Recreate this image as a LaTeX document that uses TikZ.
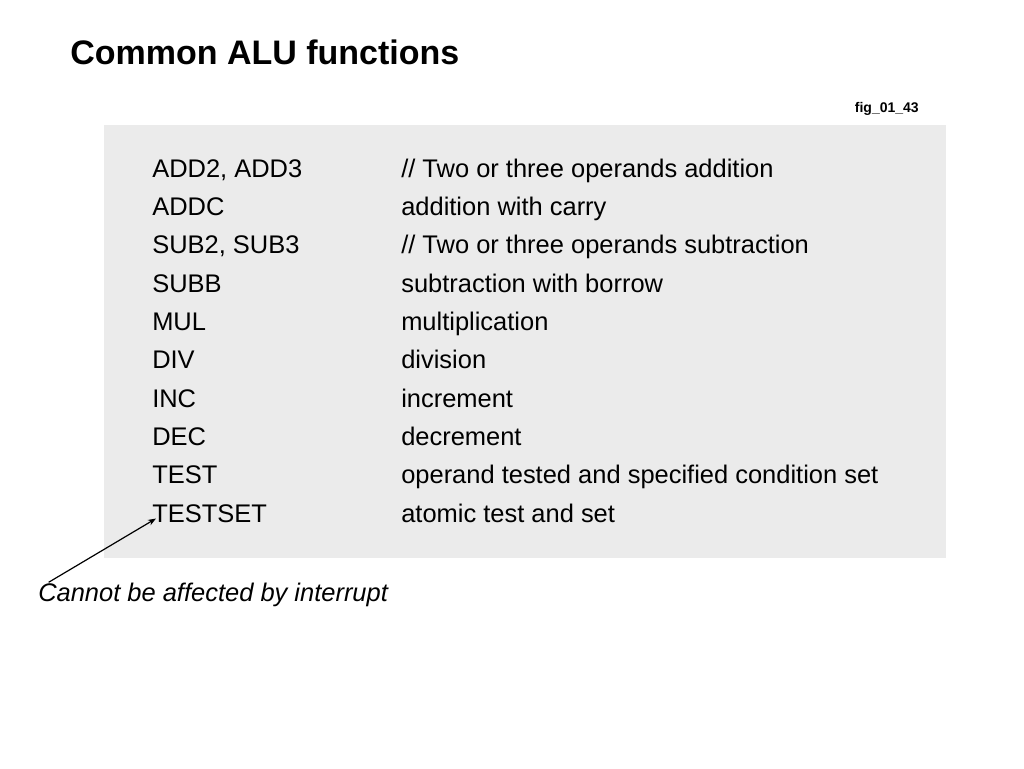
\documentclass[tikz,border=0pt]{standalone}
\usepackage{fontspec}
\setmainfont{Liberation Sans}
\usetikzlibrary{arrows.meta}
\definecolor{boxgrey}{HTML}{EBEBEB}
\tikzset{
  rowtext/.style={anchor=base west,inner sep=0pt,font=\fontsize{19.1}{21}\selectfont},
}
\begin{document}
\begin{tikzpicture}[x=0.75pt,y=-0.75pt]
\useasboundingbox (0,0) rectangle (1024,768);

\node [anchor=base west,inner sep=0pt,font=\fontsize{25.5}{28}\selectfont\bfseries] (alu-title) at (70,64){Common ALU functions};
\node [anchor=base east,inner sep=0pt,font=\fontsize{10.5}{12}\selectfont\bfseries] (alu-fig) at (919,112){fig\_01\_43};

\fill [boxgrey] (104,125) rectangle (946,558);

%%%%%%%%%%%%%%%%%%%%%%%%%%%%%%%%%%%%%%%%%%%%%%%%%%%%%%%%%%%%%%%%%

\node [rowtext] (alu-add) at (152,177){ADD2, ADD3};
\node [rowtext] (alu-add-d) at (401,177){// Two or three operands addition};

\node [rowtext] (alu-addc) at (152,215.3){ADDC};
\node [rowtext] (alu-addc-d) at (401,215.3){addition with carry};

\node [rowtext] (alu-sub) at (152,253.7){SUB2, SUB3};
\node [rowtext] (alu-sub-d) at (401,253.7){// Two or three operands subtraction};

\node [rowtext] (alu-subb) at (152,292){SUBB};
\node [rowtext] (alu-subb-d) at (401,292){subtraction with borrow};

\node [rowtext] (alu-mul) at (152,330.3){MUL};
\node [rowtext] (alu-mul-d) at (401,330.3){multiplication};

\node [rowtext] (alu-div) at (152,368.7){DIV};
\node [rowtext] (alu-div-d) at (401,368.7){division};

\node [rowtext] (alu-inc) at (152,407){INC};
\node [rowtext] (alu-inc-d) at (401,407){increment};

\node [rowtext] (alu-dec) at (152,445.3){DEC};
\node [rowtext] (alu-dec-d) at (401,445.3){decrement};

\node [rowtext] (alu-test) at (152,483.7){TEST};
\node [rowtext] (alu-test-d) at (401,483.7){operand tested and specified condition set};

\node [rowtext] (alu-testset) at (152,522){TESTSET};
\node [rowtext] (alu-testset-d) at (401,522){atomic test and set};

%%%%%%%%%%%%%%%%%%%%%%%%%%%%%%%%%%%%%%%%%%%%%%%%%%%%%%%%%%%%%%%%%

\node [rowtext,font=\fontsize{19.1}{21}\selectfont\itshape] (alu-note) at (38,601){Cannot be affected by interrupt};
\draw [-{Stealth[length=6pt,width=4.5pt]},line width=0.9pt]   ([xshift=8pt]alu-note.north west) -- ([shift={(4,-4)}]alu-testset.south west);

\end{tikzpicture}
\end{document}
